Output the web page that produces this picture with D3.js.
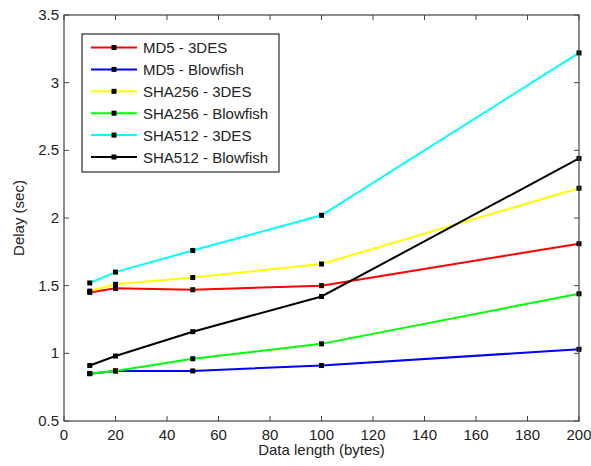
<!DOCTYPE html>
<html>
<head>
    <title>Delay vs data length</title>
    <script src="https://d3js.org/d3.v7.min.js"></script>
    <style>
        body {
            margin: 0;
            background: #fff;
            font-family: Arial, "Liberation Sans", sans-serif;
        }
        .tick-label {
            font-size: 15px;
            fill: #222;
        }
        .axis-title {
            font-size: 15px;
            fill: #222;
        }
        .legend-text {
            font-size: 15px;
            fill: #222;
        }
    </style>
</head>
<body>
    <svg id="chart" width="591" height="466"></svg>

    <script>
        // Data length in bytes
        const dataLengths = [10, 20, 50, 100, 200];

        // Delay (sec) per combination
        const md5_3des = [1.45, 1.48, 1.47, 1.50, 1.81];
        const md5_blowfish = [0.85, 0.87, 0.87, 0.91, 1.03];
        const sha256_3des = [1.46, 1.51, 1.56, 1.66, 2.22];
        const sha256_blowfish = [0.85, 0.87, 0.96, 1.07, 1.44];
        const sha512_3des = [1.52, 1.60, 1.76, 2.02, 3.22];
        const sha512_blowfish = [0.91, 0.98, 1.16, 1.42, 2.44];

        const seriesNames = ['MD5 - 3DES', 'MD5 - Blowfish', 'SHA256 - 3DES',
            'SHA256 - Blowfish', 'SHA512 - 3DES', 'SHA512 - Blowfish'];
        const seriesValues = [md5_3des, md5_blowfish, sha256_3des,
            sha256_blowfish, sha512_3des, sha512_blowfish];
        const seriesColors = ['#ff0000', '#0000ff', '#ffff00', '#00ff00', '#00ffff', '#000000'];

        const xTicks = [0, 20, 40, 60, 80, 100, 120, 140, 160, 180, 200];
        const yTicks = [0.5, 1, 1.5, 2, 2.5, 3, 3.5];

        const svg = d3.select('#chart');
        const plotLeft = 64, plotRight = 579, plotTop = 15, plotBottom = 421;
        const TICK = 5;

        const x = d3.scaleLinear().domain([0, 200]).range([plotLeft, plotRight]);
        const y = d3.scaleLinear().domain([0.5, 3.5]).range([plotBottom, plotTop]);

        // Lines and markers
        const line = d3.line()
            .x((d, i) => x(dataLengths[i]))
            .y(d => y(d));

        seriesValues.forEach((vals, s) => {
            svg.append('path')
                .datum(vals)
                .attr('d', line)
                .attr('fill', 'none')
                .attr('stroke', seriesColors[s])
                .attr('stroke-width', 2);
        });
        seriesValues.forEach((vals) => {
            svg.selectAll(null)
                .data(vals)
                .enter()
                .append('rect')
                .attr('x', (d, i) => x(dataLengths[i]) - 2.5)
                .attr('y', d => y(d) - 2.5)
                .attr('width', 5)
                .attr('height', 5)
                .attr('fill', '#000');
        });

        // Axes box and ticks
        const axisColor = '#444';
        svg.append('rect')
            .attr('x', plotLeft)
            .attr('y', plotTop)
            .attr('width', plotRight - plotLeft)
            .attr('height', plotBottom - plotTop)
            .attr('fill', 'none')
            .attr('stroke', axisColor)
            .attr('stroke-width', 1.2);

        xTicks.forEach(t => {
            svg.append('line')
                .attr('x1', x(t)).attr('x2', x(t))
                .attr('y1', plotBottom).attr('y2', plotBottom - TICK)
                .attr('stroke', axisColor);
            svg.append('line')
                .attr('x1', x(t)).attr('x2', x(t))
                .attr('y1', plotTop).attr('y2', plotTop + TICK)
                .attr('stroke', axisColor);
            svg.append('text')
                .attr('class', 'tick-label')
                .attr('x', x(t))
                .attr('y', plotBottom + 18.5)
                .attr('text-anchor', 'middle')
                .text(t);
        });

        yTicks.forEach(t => {
            svg.append('line')
                .attr('x1', plotLeft).attr('x2', plotLeft + TICK)
                .attr('y1', y(t)).attr('y2', y(t))
                .attr('stroke', axisColor);
            svg.append('line')
                .attr('x1', plotRight).attr('x2', plotRight - TICK)
                .attr('y1', y(t)).attr('y2', y(t))
                .attr('stroke', axisColor);
            svg.append('text')
                .attr('class', 'tick-label')
                .attr('x', plotLeft - 5)
                .attr('y', y(t) + 5)
                .attr('text-anchor', 'end')
                .text(t);
        });

        // Axis titles
        svg.append('text')
            .attr('class', 'axis-title')
            .attr('x', (plotLeft + plotRight) / 2)
            .attr('y', 455)
            .attr('text-anchor', 'middle')
            .text('Data length (bytes)');

        svg.append('text')
            .attr('class', 'axis-title')
            .attr('transform', `translate(24, ${(plotTop + plotBottom) / 2}) rotate(-90)`)
            .attr('text-anchor', 'middle')
            .text('Delay (sec)');

        // Legend
        const legend = svg.append('g');
        legend.append('rect')
            .attr('x', 82)
            .attr('y', 34)
            .attr('width', 197)
            .attr('height', 138)
            .attr('fill', '#fff')
            .attr('stroke', '#000')
            .attr('stroke-width', 1);

        seriesNames.forEach((name, i) => {
            const ly = 47.5 + i * 21.9;
            legend.append('line')
                .attr('x1', 91).attr('x2', 137)
                .attr('y1', ly).attr('y2', ly)
                .attr('stroke', seriesColors[i])
                .attr('stroke-width', 2);
            legend.append('rect')
                .attr('x', 114 - 2.5)
                .attr('y', ly - 2.5)
                .attr('width', 5)
                .attr('height', 5)
                .attr('fill', '#000');
            legend.append('text')
                .attr('class', 'legend-text')
                .attr('x', 143)
                .attr('y', ly + 5.5)
                .text(name);
        });
    </script>
</body>
</html>
